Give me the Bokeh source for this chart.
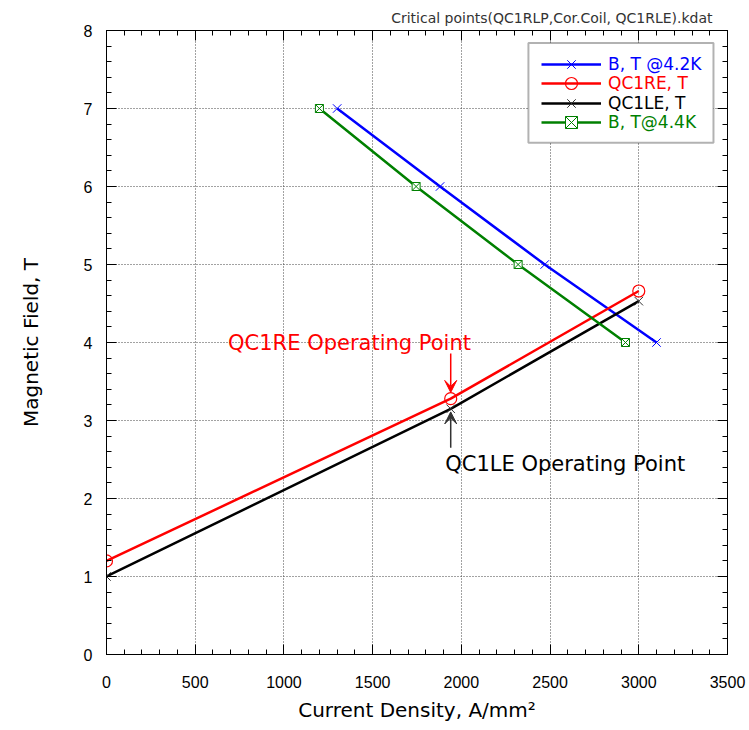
from bokeh.plotting import figure
from bokeh.models import (Range1d, LinearAxis, Legend, LegendItem, Label, Arrow,
                          VeeHead, BoxAnnotation, SingleIntervalTicker)
from bokeh.embed import file_html
from bokeh.resources import INLINE

# ---- data ----
series_names = ["B, T @4.2K", "QC1RE, T", "QC1LE, T", "B, T@4.4K"]
j_42K = [1300, 1880, 2470, 3100]
b_42K = [7, 6, 5, 4]
j_qc1re = [0, 1940, 3000]
b_qc1re = [1.2, 3.28, 4.66]
j_qc1le = [0, 1940, 3000]
b_qc1le = [1.0, 3.15, 4.53]
j_44K = [1200, 1745, 2320, 2925]
b_44K = [7, 6, 5, 4]
x_tick_step = 500
y_tick_step = 1
title_text = "Critical points(QC1RLP,Cor.Coil, QC1RLE).kdat"
re_label = "QC1RE Operating Point"
le_label = "QC1LE Operating Point"

BLUE = "#0000ff"
RED = "#ff0000"
BLACK = "#000000"
GREEN = "#008000"
LABEL_FONT = "DejaVu Sans"
TICK_FONT = "Liberation Sans"

p = figure(width=749, height=730, x_range=Range1d(0, 3500), y_range=Range1d(0, 8),
           output_backend="svg", toolbar_location=None,
           min_border_left=106, min_border_right=22, min_border_top=30, min_border_bottom=76)

p.title.text = title_text
p.title.align = "right"
p.title.text_font = LABEL_FONT
p.title.text_font_size = "14px"
p.title.text_font_style = "normal"
p.title.text_color = "#333333"
p.title.standoff = 10
p.title.offset = 15

p.outline_line_color = BLACK
p.outline_line_width = 1

def style_axis(ax, show_labels=True):
    ax.major_tick_in = 10
    ax.major_tick_out = 0
    ax.minor_tick_in = 5
    ax.minor_tick_out = 0
    ax.axis_line_color = BLACK
    ax.major_tick_line_color = BLACK
    ax.minor_tick_line_color = BLACK
    if show_labels:
        ax.major_label_text_font = TICK_FONT
        ax.major_label_text_font_size = "16px"
        ax.major_label_text_color = BLACK
        ax.axis_label_text_font = LABEL_FONT
        ax.axis_label_text_font_size = "20px"
        ax.axis_label_text_font_style = "normal"
        ax.axis_label_text_color = BLACK
    else:
        ax.major_label_text_font_size = "1px"
        ax.major_label_text_color = None
        ax.major_label_text_alpha = 0
        ax.major_label_standoff = 0

xt = SingleIntervalTicker(interval=x_tick_step, num_minor_ticks=5)
yt = SingleIntervalTicker(interval=y_tick_step, num_minor_ticks=5)
p.xaxis.ticker = xt
p.yaxis.ticker = yt
p.xaxis.axis_label = "Current Density, A/mm²"
p.yaxis.axis_label = "Magnetic Field, T"
for ax in p.xaxis + p.yaxis:
    style_axis(ax)
p.xaxis.major_label_standoff = 21
p.xaxis.axis_label_standoff = 7
p.yaxis.major_label_standoff = 14
p.yaxis.axis_label_standoff = 38

top_ax = LinearAxis(ticker=SingleIntervalTicker(interval=x_tick_step, num_minor_ticks=5))
style_axis(top_ax, show_labels=False)
p.add_layout(top_ax, "above")
right_ax = LinearAxis(ticker=SingleIntervalTicker(interval=y_tick_step, num_minor_ticks=5))
style_axis(right_ax, show_labels=False)
p.add_layout(right_ax, "right")

p.xgrid.ticker = xt
p.ygrid.ticker = yt
p.grid.grid_line_color = "#444444"
p.grid.grid_line_dash = "1 2"
p.grid.grid_line_width = 1

# ---- series ----
l1 = p.line(j_42K, b_42K, line_color=BLUE, line_width=2.5)
m1 = p.scatter(j_42K, b_42K, marker="x", size=12, line_color=BLUE, line_width=1)
l2 = p.line(j_qc1re, b_qc1re, line_color=RED, line_width=2.5)
m2 = p.scatter(j_qc1re, b_qc1re, marker="circle", size=12, line_color=RED,
               fill_color=None, line_width=1.2)
l3 = p.line(j_qc1le, b_qc1le, line_color=BLACK, line_width=2.5)
m3 = p.scatter(j_qc1le, b_qc1le, marker="x", size=12, line_color="#333333", line_width=1)
l4 = p.line(j_44K, b_44K, line_color=GREEN, line_width=2.5)
m4 = p.scatter(j_44K, b_44K, marker="square_x", size=8, line_color=GREEN,
               fill_color="white", line_width=1)

# ---- legend: white box with one legend per coloured entry ----
box = BoxAnnotation(left=2378, right=3421, bottom=6.56, top=7.84,
                    fill_color="white", fill_alpha=1.0,
                    line_color=BLACK, line_width=2)
p.add_layout(box)

legend_rows = [(series_names[0], BLUE, [l1, m1], 575),
               (series_names[1], RED, [l2, m2], 556),
               (series_names[2], BLACK, [l3, m3], 536),
               (series_names[3], GREEN, [l4, m4], 517)]
for name, color, rs, vy in legend_rows:
    lg = Legend(items=[LegendItem(label=name, renderers=rs)], location=(435, vy),
                padding=0, margin=0, border_line_alpha=0, background_fill_alpha=0,
                glyph_width=60, glyph_height=30, label_standoff=7,
                label_text_font=LABEL_FONT, label_text_font_size="17px",
                label_text_color=color)
    p.add_layout(lg, "center")

# ---- operating point annotations ----
op_j = j_qc1re[1]
p.add_layout(Arrow(x_start=op_j, y_start=b_qc1re[1] + 0.58, x_end=op_j, y_end=b_qc1re[1] + 0.08,
                   line_color=RED, line_width=1.5,
                   end=VeeHead(size=12, fill_color=RED, line_color=RED, line_width=1)))
p.add_layout(Arrow(x_start=op_j, y_start=b_qc1le[1] - 0.5, x_end=op_j, y_end=b_qc1le[1] - 0.04,
                   line_color="#333333", line_width=1.5,
                   end=VeeHead(size=12, fill_color="#333333", line_color="#333333", line_width=1)))
p.add_layout(Label(x=685, y=4.0, text=re_label, text_color=RED, text_font=LABEL_FONT,
                   text_font_size="21px", text_baseline="alphabetic"))
p.add_layout(Label(x=1909, y=2.44, text=le_label, text_color=BLACK, text_font=LABEL_FONT,
                   text_font_size="21px", text_baseline="alphabetic"))

open("out.html", "w").write(file_html(p, INLINE))
